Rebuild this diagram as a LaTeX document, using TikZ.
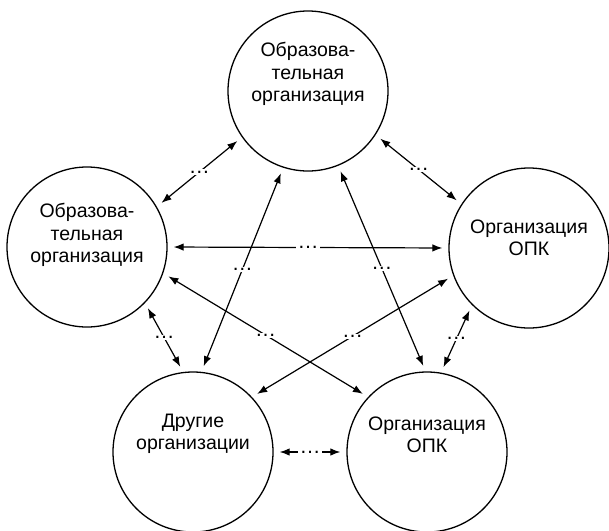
\documentclass[tikz,border=0pt]{standalone}
\usepackage{fontspec}
\setmainfont{Liberation Sans}
\usepackage{tikz}
\usetikzlibrary{arrows.meta,positioning,calc}

\begin{document}
\begin{tikzpicture}[
  x=1pt, y=-1pt,
  org/.style={draw, circle, line width=1.3pt, minimum size=160pt, inner sep=0pt},
  lbl/.style={align=center, font=\fontsize{19.5}{22.5}\selectfont},
  link/.style={{Latex[length=10pt,width=7.5pt]}-{Latex[length=10pt,width=7.5pt]},
               line width=1.2pt, shorten <=6pt, shorten >=6pt},
  gap/.style={midway, fill=white, inner sep=1.5pt, font=\fontsize{21}{22}\selectfont}
]
\useasboundingbox (0,0) rectangle (609,530);

% organisations
\node[org] (edutop) at (308,91) {};
\node[org] (eduleft) at (87,247) {};
\node[org] (opkright) at (529,248) {};
\node[org] (other) at (193,452) {};
\node[org] (opkbottom) at (427,452) {};

\node[lbl, yshift=17pt] (edutoptxt) at (edutop) {Образова-\\тельная\\организация};
\node[lbl, yshift=12pt] (edulefttxt) at (eduleft) {Образова-\\тельная\\организация};
\node[lbl, yshift=10pt] (opkrighttxt) at (opkright) {Организация\\ОПК};
\node[lbl, yshift=18pt] (othertxt) at (other) {Другие\\организации};
\node[lbl, yshift=17pt] (opkbottomtxt) at (opkbottom) {Организация\\ОПК};

% links
\draw[link] (edutop.215) -- (eduleft.30) node[gap] {…};
\draw[link] (edutop.-33) -- (opkright.147) node[gap] {…};
\draw[link] (eduleft.0) -- (opkright.180) node[gap] {…};
\draw[link] (edutop.252) -- (other.84) node[gap] {…};
\draw[link] (edutop.292) -- (opkbottom.91) node[gap] {…};
\draw[link] (eduleft.-44) -- (other.97) node[gap] {…};
\draw[link] (opkright.225) -- (opkbottom.80) node[gap] {…};
\draw[link] (eduleft.-19) -- (opkbottom.137) node[gap] {…};
\draw[link] (opkright.200) -- (other.43) node[gap] {…};
\draw[link] (other.0) -- (opkbottom.180) node[gap] {…};
\end{tikzpicture}
\end{document}
